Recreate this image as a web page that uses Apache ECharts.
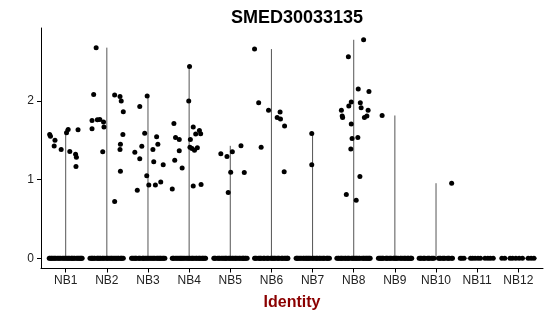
<!DOCTYPE html>
<html>
<head>
<meta charset="utf-8">
<script src="https://cdn.jsdelivr.net/npm/echarts@6/dist/echarts.min.js"></script>
<style>html,body{margin:0;padding:0;background:#fff}#c{width:550px;height:316px}</style>
</head>
<body>
<div id="c"></div>
<script>
const titleText = 'SMED30033135';
const xTitle = 'Identity';
const categories = ['NB1','NB2','NB3','NB4','NB5','NB6','NB7','NB8','NB9','NB10','NB11','NB12'];
const yTicks = [0, 1, 2];

// non-zero expression values per cluster, with horizontal jitter offsets
const NB1_values = [1.576,1.554,1.503,1.43,1.385,1.596,1.64,1.36,1.325,1.287,1.168,1.635];
const NB1_jitter = [-0.39,-0.37,-0.26,-0.28,-0.11,0.02,0.06,0.10,0.24,0.26,0.25,0.30];
const NB2_values = [2.68,2.085,1.754,1.647,1.762,1.767,1.733,1.669,1.354,2.076,2.06,2.0,1.864,1.576,1.452,1.385,1.108,0.722];
const NB2_jitter = [-0.26,-0.32,-0.36,-0.36,-0.23,-0.17,-0.08,-0.07,-0.10,0.19,0.32,0.35,0.40,0.39,0.33,0.32,0.33,0.19];
const NB3_values = [1.932,1.35,1.265,1.427,1.592,0.866,2.064,1.049,0.934,1.385,1.545,1.452,1.227,0.934,0.972,1.189];
const NB3_jitter = [-0.20,-0.32,-0.20,-0.15,-0.08,-0.26,-0.02,-0.03,0.02,0.12,0.21,0.24,0.14,0.18,0.31,0.37];
const NB4_values = [1.716,1.538,1.248,1.512,1.367,1.15,0.883,2.44,2.0,1.51,1.414,1.397,1.376,1.405,1.67,1.58,1.627,1.584,0.921,0.939];
const NB4_jitter = [-0.37,-0.33,-0.35,-0.24,-0.24,-0.17,-0.41,0.01,-0.01,0.03,0.02,0.07,0.13,0.20,0.10,0.16,0.25,0.28,0.10,0.29];
const NB5_values = [1.329,1.295,1.354,1.096,0.837,1.431,1.092];
const NB5_jitter = [-0.23,-0.08,0.05,0.01,-0.05,0.26,0.34];
const NB6_values = [2.662,1.978,1.414,1.885,1.792,1.86,1.771,1.682,1.1];
const NB6_jitter = [-0.41,-0.31,-0.25,-0.07,0.14,0.21,0.22,0.32,0.31];
const NB7_values = [1.588,1.189];
const NB7_jitter = [-0.02,-0.02];
const NB8_values = [2.565,2.78,2.153,2.123,1.885,1.81,1.79,1.936,1.99,1.978,1.915,1.885,1.792,1.81,1.707,1.525,1.538,1.389,1.041,0.811,0.739];
const NB8_jitter = [-0.13,0.24,0.11,0.37,-0.30,-0.28,-0.27,-0.12,-0.06,0.16,0.18,0.35,0.26,0.32,-0.06,-0.04,0.10,-0.07,0.15,-0.18,0.06];
const NB9_values = [1.817];
const NB9_jitter = [-0.31];
const NB10_values = [0.955];
const NB10_jitter = [0.38];
const NB11_values = [];
const NB11_jitter = [];
const NB12_values = [];
const NB12_jitter = [];

// jitter offsets of the cells with zero expression
const NB1_zero = [-0.40,-0.38,-0.35,-0.33,-0.30,-0.27,-0.25,-0.21,-0.18,-0.15,-0.12,-0.08,-0.05,-0.02,0.01,0.04,0.07,0.09,0.13,0.15,0.17,0.20,0.22,0.26,0.29,0.31,0.34,0.36,0.38,0.40];
const NB2_zero = [-0.41,-0.38,-0.36,-0.34,-0.31,-0.29,-0.24,-0.22,-0.20,-0.17,-0.15,-0.11,-0.09,-0.06,-0.02,0.01,0.03,0.07,0.10,0.12,0.15,0.18,0.21,0.24,0.27,0.29,0.33,0.35,0.37,0.40];
const NB3_zero = [-0.40,-0.38,-0.35,-0.32,-0.30,-0.28,-0.23,-0.21,-0.19,-0.14,-0.12,-0.10,-0.07,-0.04,-0.01,0.02,0.05,0.08,0.11,0.14,0.16,0.20,0.23,0.25,0.28,0.30,0.32,0.36,0.38,0.41];
const NB4_zero = [-0.41,-0.39,-0.37,-0.33,-0.30,-0.27,-0.24,-0.21,-0.19,-0.16,-0.13,-0.10,-0.06,-0.03,0.00,0.02,0.06,0.08,0.10,0.14,0.17,0.19,0.23,0.25,0.27,0.31,0.33,0.35,0.38,0.40];
const NB5_zero = [-0.40,-0.38,-0.36,-0.31,-0.28,-0.26,-0.22,-0.19,-0.16,-0.13,-0.11,-0.09,-0.05,-0.02,0.00,0.04,0.06,0.09,0.12,0.14,0.17,0.21,0.23,0.26,0.30,0.31,0.33,0.36,0.38,0.41];
const NB6_zero = [-0.41,-0.39,-0.37,-0.32,-0.29,-0.27,-0.25,-0.20,-0.18,-0.16,-0.11,-0.09,-0.07,-0.02,0.01,0.03,0.06,0.08,0.11,0.15,0.17,0.19,0.24,0.26,0.28,0.32,0.34,0.37,0.39,0.40];
const NB7_zero = [-0.40,-0.38,-0.36,-0.33,-0.30,-0.27,-0.23,-0.21,-0.18,-0.15,-0.13,-0.10,-0.08,-0.05,-0.01,0.01,0.04,0.08,0.10,0.12,0.16,0.18,0.21,0.25,0.27,0.29,0.34,0.36,0.38,0.41];
const NB8_zero = [-0.41,-0.38,-0.36,-0.32,-0.30,-0.28,-0.24,-0.21,-0.19,-0.15,-0.13,-0.11,-0.06,-0.03,-0.01,0.02,0.05,0.07,0.10,0.13,0.15,0.20,0.23,0.25,0.28,0.31,0.33,0.36,0.38,0.40];
const NB9_zero = [-0.40,-0.37,-0.35,-0.32,-0.30,-0.28,-0.22,-0.20,-0.18,-0.14,-0.11,-0.09,-0.04,-0.02,0.01,0.03,0.05,0.08,0.13,0.15,0.18,0.22,0.24,0.26,0.30,0.32,0.34,0.38,0.39,0.41];
const NB10_zero = [-0.41,-0.38,-0.36,-0.31,-0.29,-0.27,-0.21,-0.18,-0.16,-0.11,-0.08,-0.05,0.06,0.09,0.11,0.16,0.19,0.21,0.27,0.30,0.32,0.38,0.40];
const NB11_zero = [-0.41,-0.37,-0.32,-0.16,-0.11,-0.05,0.02,0.08,0.19,0.26,0.32,0.39];
const NB12_zero = [-0.40,-0.33,-0.20,-0.14,-0.06,0.02,0.10,0.24,0.31,0.38];

const groupValues = [NB1_values,NB2_values,NB3_values,NB4_values,NB5_values,NB6_values,NB7_values,NB8_values,NB9_values,NB10_values,NB11_values,NB12_values];
const groupJitter = [NB1_jitter,NB2_jitter,NB3_jitter,NB4_jitter,NB5_jitter,NB6_jitter,NB7_jitter,NB8_jitter,NB9_jitter,NB10_jitter,NB11_jitter,NB12_jitter];
const groupZero = [NB1_zero,NB2_zero,NB3_zero,NB4_zero,NB5_zero,NB6_zero,NB7_zero,NB8_zero,NB9_zero,NB10_zero,NB11_zero,NB12_zero];

const points = [];
const violins = [];
categories.forEach((c, i) => {
  const pos = i + 1;
  groupZero[i].forEach(j => points.push([pos + j, 0]));
  groupValues[i].forEach((v, k) => points.push([pos + groupJitter[i][k], v]));
  const mx = groupValues[i].length ? Math.max(...groupValues[i]) : 0;
  violins.push([pos, mx]);
});
const tickPositions = categories.map((c, i) => i + 1);

const FONT = 'Liberation Sans, Arial, sans-serif';
const chart = echarts.init(document.getElementById('c'), null, {renderer: 'canvas'});
chart.setOption({
  animation: false,
  backgroundColor: '#fff',
  title: {
    text: titleText, left: 292, top: 4, textAlign: 'center',
    textStyle: {fontFamily: FONT, fontSize: 18, fontWeight: 'bold', color: '#000'}
  },
  grid: {left: 41, right: 7, top: 28, bottom: 47.5, containLabel: false, outerBoundsMode: 'none'},
  xAxis: {
    type: 'value', min: 0.4, max: 12.6,
    name: xTitle, nameLocation: 'middle', nameGap: 26,
    nameTextStyle: {fontFamily: FONT, fontSize: 16, fontWeight: 'bold', color: '#8B0000'},
    axisLine: {show: true, onZero: false, lineStyle: {color: '#000', width: 1}},
    axisTick: {show: true, length: 4, customValues: tickPositions, lineStyle: {color: '#000'}},
    axisLabel: {customValues: tickPositions, margin: 6, fontFamily: FONT, fontSize: 12, color: '#222',
      formatter: v => categories[Math.round(v) - 1] || ''},
    splitLine: {show: false}
  },
  yAxis: {
    type: 'value', min: -0.13, max: 2.93,
    axisLine: {show: true, onZero: false, lineStyle: {color: '#000', width: 1}},
    axisTick: {show: true, length: 4, customValues: yTicks, lineStyle: {color: '#000'}},
    axisLabel: {customValues: yTicks, margin: 7, fontFamily: FONT, fontSize: 12, color: '#222'},
    splitLine: {show: false}
  },
  series: [
    {
      type: 'custom',
      data: violins,
      z: 1,
      renderItem: (params, api) => {
        const x = api.value(0), mx = api.value(1);
        const b = api.coord([x, 0]);
        const t = api.coord([x, mx]);
        const l = api.coord([x - 0.45, 0]);
        const r = api.coord([x + 0.45, 0]);
        const st = {stroke: '#555', lineWidth: 1};
        const children = [{type: 'line', shape: {x1: l[0], y1: l[1], x2: r[0], y2: r[1]}, style: st}];
        if (mx > 0) children.push({type: 'line', shape: {x1: b[0], y1: b[1], x2: t[0], y2: t[1]}, style: st});
        return {type: 'group', children};
      }
    },
    {
      type: 'scatter',
      data: points,
      z: 2,
      symbol: 'circle',
      symbolSize: 5,
      itemStyle: {color: '#000', opacity: 1}
    }
  ]
});
</script>
</body>
</html>
